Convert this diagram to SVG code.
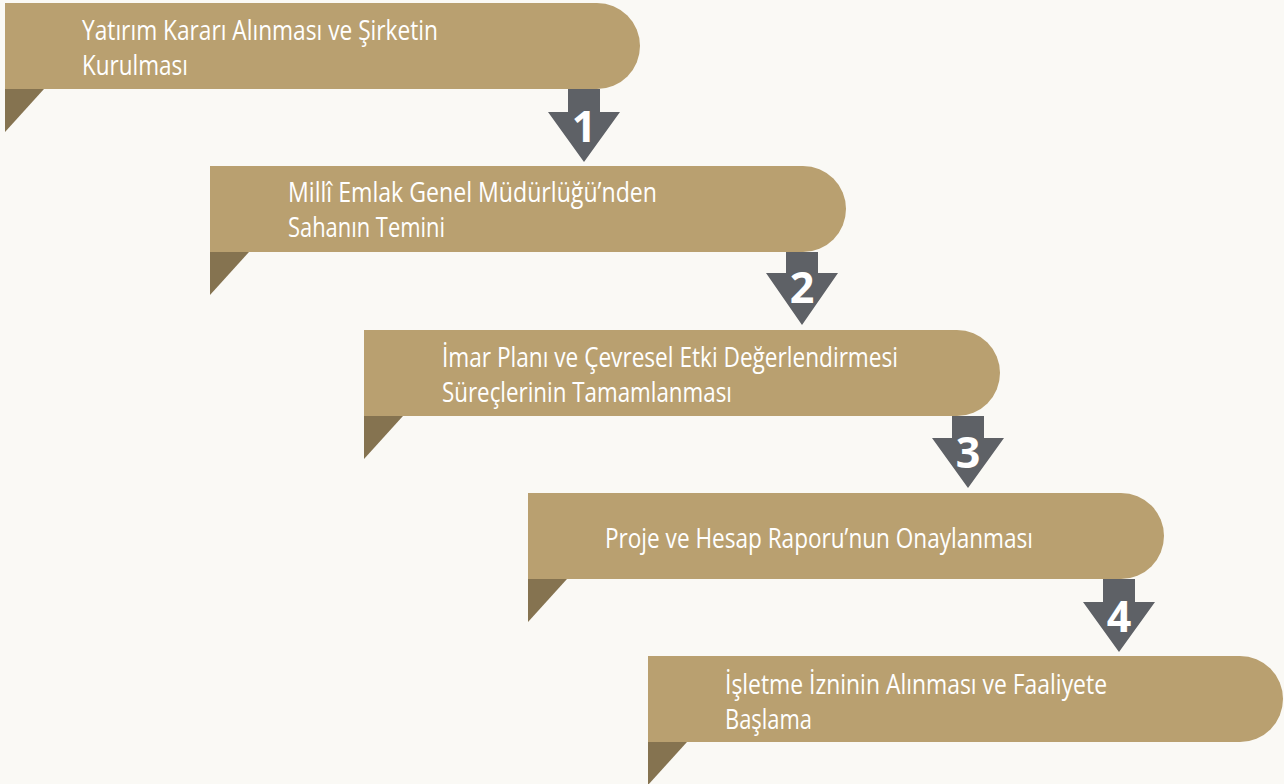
<svg xmlns="http://www.w3.org/2000/svg" width="1284" height="784" viewBox="0 0 1284 784">
<style>
.band{fill:#B9A070}
.fold{fill:#857350}
.arrow{fill:#5E6166}
.lbl{font-family:"Open Sans","Noto Sans","Liberation Sans",sans-serif;font-size:27px;fill:#FFFFFF}
.num{font-family:"Open Sans","Liberation Sans",sans-serif;font-weight:bold;font-size:43px;fill:#FFFFFF;text-anchor:middle}
</style>
<rect x="0" y="0" width="1284" height="784" fill="#FAF9F5"/>
<g id="node1">
<path class="band" d="M5,3 H597 A43,43 0 0 1 597,89 H5 Z"/>
<path class="fold" d="M5,89 L44,89 L5,132 Z"/>
<text class="lbl" x="82" y="40" textLength="356" lengthAdjust="spacingAndGlyphs">Yatırım Kararı Alınması ve Şirketin</text>
<text class="lbl" x="82" y="75" textLength="106" lengthAdjust="spacingAndGlyphs">Kurulması</text>
</g>
<g id="node2">
<path class="band" d="M210,166 H803 A43,43 0 0 1 803,252 H210 Z"/>
<path class="fold" d="M210,252 L249,252 L210,295 Z"/>
<text class="lbl" x="288" y="202" textLength="369" lengthAdjust="spacingAndGlyphs">Millî Emlak Genel Müdürlüğü’nden</text>
<text class="lbl" x="288" y="237" textLength="157" lengthAdjust="spacingAndGlyphs">Sahanın Temini</text>
</g>
<g id="node3">
<path class="band" d="M364,330 H957 A43,43 0 0 1 957,416 H364 Z"/>
<path class="fold" d="M364,416 L403,416 L364,459 Z"/>
<text class="lbl" x="442" y="366.5" textLength="456" lengthAdjust="spacingAndGlyphs">İmar Planı ve Çevresel Etki Değerlendirmesi</text>
<text class="lbl" x="442" y="401.5" textLength="290" lengthAdjust="spacingAndGlyphs">Süreçlerinin Tamamlanması</text>
</g>
<g id="node4">
<path class="band" d="M528,493 H1121 A43,43 0 0 1 1121,579 H528 Z"/>
<path class="fold" d="M528,579 L567,579 L528,622 Z"/>
<text class="lbl" x="605" y="548" textLength="428" lengthAdjust="spacingAndGlyphs">Proje ve Hesap Raporu’nun Onaylanması</text>
</g>
<g id="node5">
<path class="band" d="M648,656 H1240 A43,43 0 0 1 1240,742 H648 Z"/>
<path class="fold" d="M648,742 L687,742 L648,785 Z"/>
<text class="lbl" x="725" y="693.5" textLength="382" lengthAdjust="spacingAndGlyphs">İşletme İzninin Alınması ve Faaliyete</text>
<text class="lbl" x="725" y="728.5" textLength="87" lengthAdjust="spacingAndGlyphs">Başlama</text>
</g>
<g id="connectors">
<path class="arrow" d="M568,89 H600 V112 H620 L584,162 L548,112 H568 Z"/>
<text class="num" x="584" y="142">1</text>
<path class="arrow" d="M786,252 H818 V273 H838 L802,325 L766,273 H786 Z"/>
<text class="num" x="802" y="303">2</text>
<path class="arrow" d="M952,416 H984 V438 H1004 L968,488 L932,438 H952 Z"/>
<text class="num" x="968" y="468">3</text>
<path class="arrow" d="M1103,579 H1135 V602 H1155 L1119,652 L1083,602 H1103 Z"/>
<text class="num" x="1119" y="632">4</text>
</g>
</svg>
